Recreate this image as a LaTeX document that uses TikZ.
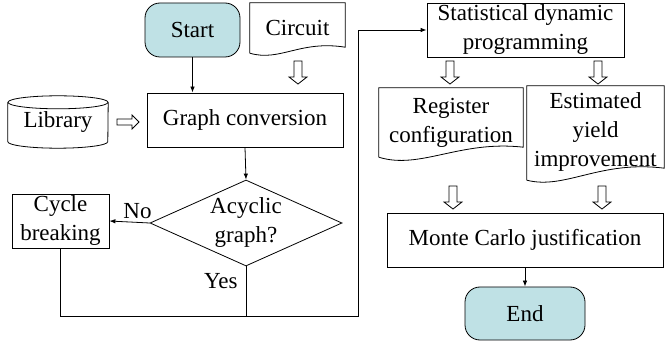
\documentclass[tikz,border=0pt]{standalone}
\usepackage{fontspec}
\setmainfont{Liberation Serif}
\newfontfamily\labelfont{Liberation Serif}
\usetikzlibrary{shapes.geometric,arrows.meta,calc}
\definecolor{termfill}{RGB}{191,225,229}
\tikzset{
  x=1pt, y=1pt,
  every node/.style={font=\labelfont\fontsize{23}{29}\selectfont, align=center, inner sep=0pt},
  line/.style={line width=0.8pt},
  box/.style={draw, line width=0.8pt, rectangle},
  terminal/.style={draw, line width=0.8pt, rounded corners=15pt, fill=termfill},
  textbox/.style={rectangle},
  flow/.style={line width=0.8pt, -{Latex[length=6pt,width=4.5pt]}},
  hdown/.pic={\draw[line width=0.8pt, fill=white]
      (-4,0) -- (-4,-16) -- (-9,-16) -- (0,-23) -- (9,-16) -- (4,-16) -- (4,0) -- cycle;},
  hright/.pic={\draw[line width=0.8pt, fill=white]
      (0,3) -- (15,3) -- (15,7) -- (22,0) -- (15,-7) -- (15,-3) -- (0,-3) -- cycle;}
}
\begin{document}
\begin{tikzpicture}
\useasboundingbox (0,0) rectangle (665,-342);

% terminals
\node[terminal, minimum width=95pt, minimum height=54pt] (start) at (192.5,-30) {Start};
\node[terminal, minimum width=120pt, minimum height=53pt] (end) at (525,-313.5) {End};

% process boxes
\node[box, minimum width=196pt, minimum height=54pt] (graph) at (245,-120) {Graph conversion};
\node[box, minimum width=97pt, minimum height=54pt] (cyc) at (60.5,-221) {Cycle\\breaking};
\node[box, minimum width=197pt, minimum height=54pt] (stat) at (525.5,-30) {Statistical dynamic\\programming};
\node[box, minimum width=276pt, minimum height=54pt] (monte) at (525,-240) {Monte Carlo justification};

% decision
\node[diamond, draw, line width=0.8pt, aspect=2.2, minimum width=192pt, minimum height=86pt] (acyc) at (246,-223) {Acyclic\\graph?};

% documents (outline drawn below)
\node[textbox, minimum width=95pt, minimum height=50pt] (circ) at (297.5,-28) {Circuit};
\node[textbox, minimum width=144pt, minimum height=69pt] (reg) at (451,-122.5) {Register\\configuration};
\node[textbox, minimum width=137pt, minimum height=92pt] (est) at (595.5,-132) {Estimated\\yield\\improvement};

\draw[line] (circ.south west) -- (circ.north west) -- (circ.north east) -- ($(circ.south east)+(0,6)$)
  .. controls (300,-40) and (280,-62) .. (circ.south west);
\draw[line] (reg.south west) -- (reg.north west) -- (reg.north east) -- ($(reg.south east)+(0,10)$)
  .. controls (460,-140) and (420,-170) .. (reg.south west);
\draw[line] ($(est.south west)+(0,-2)$) -- (est.north west) -- (est.north east) -- ($(est.south east)+(0,10)$)
  .. controls (600,-160) and (565,-190) .. ($(est.south west)+(0,-2)$);

% library (cylinder)
\node[textbox, minimum width=100pt, minimum height=52pt] (lib) at (58,-122) {Library};
\draw[line] ($(lib.north)+(0,-6.5)$) ellipse [x radius=50pt, y radius=6.5pt];
\draw[line] ($(lib.north west)+(0,-6.5)$) -- ($(lib.south west)+(0,6.5)$)
  arc[start angle=180, end angle=360, x radius=50pt, y radius=6.5pt]
  -- ($(lib.north east)+(0,-6.5)$);

% connectors
\draw[flow] (start.south) -- (start.south |- graph.north);
\draw[flow] (graph.south) -- (acyc.north);
\draw[flow] (acyc.west) -- (cyc.east) node[pos=0.3, above=3pt] {No};
\coordinate (jl) at (358,-316);
\draw[line] (acyc.south) -- (acyc.south |- jl) node[pos=0.3, left=8pt] {Yes};
\draw[flow] (cyc.south) |- (jl) |- (stat.west);
\draw[flow] (monte.south) -- (end.north);

% hollow data arrows
\pic at (298,-61) {hdown};
\pic at (450,-61) {hdown};
\pic at (598,-61) {hdown};
\pic at (453,-186) {hdown};
\pic at (602,-186) {hdown};
\pic at (117,-122) {hright};
\end{tikzpicture}
\end{document}
